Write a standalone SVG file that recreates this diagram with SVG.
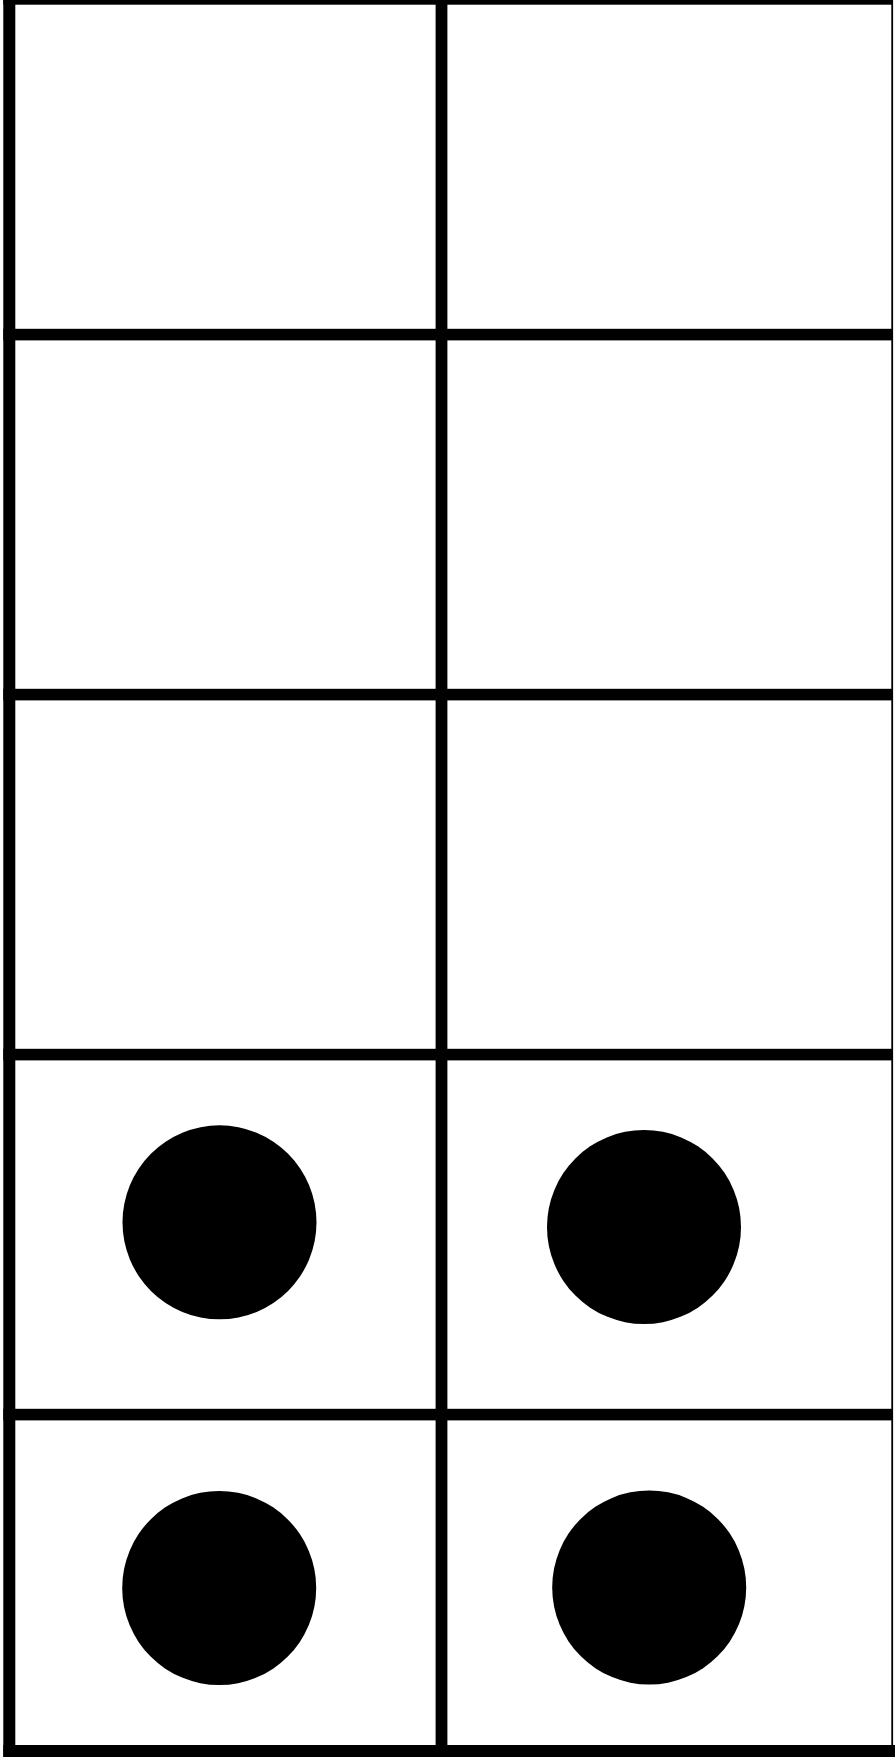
<svg xmlns="http://www.w3.org/2000/svg" width="895" height="1760" viewBox="0 0 895 1760">
<style>
.bar{fill:#000}
.dot{fill:#000}
</style>
<rect width="895" height="1760" fill="#fff"/>
<g id="grid">
<rect class="bar" x="3.3" y="0" width="889.7" height="4.7"/>
<rect class="bar" x="3.3" y="0" width="12" height="1757"/>
<rect class="bar" x="891.3" y="0" width="1.8" height="1757"/>
<rect class="bar" x="3.3" y="1745" width="891.7" height="12"/>
<rect class="bar" x="435.6" y="0" width="11.8" height="1757"/>
<rect class="bar" x="3.3" y="328.8" width="889.7" height="11.6"/>
<rect class="bar" x="3.3" y="688.8" width="889.7" height="11.6"/>
<rect class="bar" x="3.3" y="1048.8" width="889.7" height="11.6"/>
<rect class="bar" x="3.3" y="1408.8" width="889.7" height="11.6"/>
</g>
<g id="dot-r4-left"><circle class="dot" cx="219.5" cy="1222.3" r="97"/></g>
<g id="dot-r4-right"><circle class="dot" cx="644" cy="1227" r="97"/></g>
<g id="dot-r5-left"><circle class="dot" cx="219.2" cy="1588" r="97"/></g>
<g id="dot-r5-right"><circle class="dot" cx="649.2" cy="1587.5" r="97"/></g>
</svg>
